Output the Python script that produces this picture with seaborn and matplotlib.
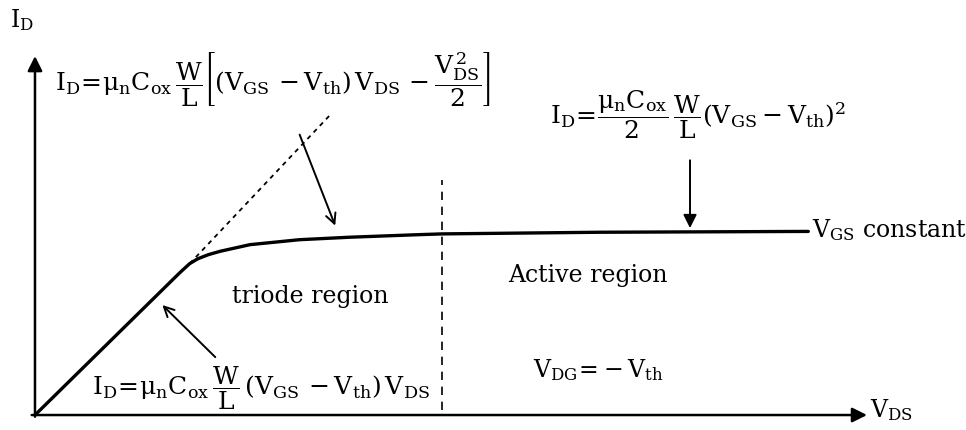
import matplotlib
matplotlib.use("Agg")
import matplotlib.pyplot as plt
import seaborn as sns
import pandas as pd

# Drain current curve for one gate voltage (arbitrary units)
vds = [0.00, 1.75, 1.87, 1.97, 2.10, 2.24, 2.60, 3.20, 3.81, 4.62, 4.92, 6.83, 9.35]
i_d = [0.00, 1.72, 1.83, 1.89, 1.94, 1.98, 2.06, 2.12, 2.15, 2.18, 2.19, 2.21, 2.22]

# Dashed extension of the linear (ohmic) slope
tangent_vds = [1.87, 3.57]
tangent_id = [1.83, 3.63]

# Boundary between triode and active region
boundary_vds = 4.92
boundary_id = [0.06, 2.84]

sns.set_theme(style="white")
plt.rcParams["font.family"] = ["DejaVu Serif", "DejaVu Sans"]
plt.rcParams["mathtext.fontset"] = "dejavuserif"
plt.rcParams["text.color"] = "black"

fig = plt.figure(figsize=(9.66, 4.30), dpi=100)
ax = fig.add_axes([0, 0, 1, 1])
ax.set_xlim(-0.423, 11.257)
ax.set_ylim(-0.181, 5.018)
ax.axis("off")

df = pd.DataFrame({"V_DS": vds, "I_D": i_d})
sns.lineplot(data=df, x="V_DS", y="I_D", ax=ax, color="black", lw=2.4,
             sort=False, estimator=None)
ax.plot(tangent_vds, tangent_id, color="black", lw=1.3, ls=(0, (2.5, 2.5)))
ax.plot([boundary_vds, boundary_vds], boundary_id, color="black", lw=1.2,
        ls=(0, (5, 4)))

# Coordinate axes with arrow heads
axis_kw = dict(arrowstyle="-|>", color="black", lw=1.8, mutation_scale=22,
               shrinkA=0, shrinkB=0)
ax.annotate("", xy=(10.06, 0), xytext=(-0.04, 0), arrowprops=axis_kw)
ax.annotate("", xy=(0, 4.34), xytext=(0, -0.02), arrowprops=axis_kw)

# Pointer arrows from the formulas to the curve
open_kw = dict(arrowstyle="->", color="black", lw=1.4, mutation_scale=18,
               shrinkA=0, shrinkB=0)
ax.annotate("", xy=(3.63, 2.29), xytext=(3.20, 3.39), arrowprops=open_kw)
ax.annotate("", xy=(1.54, 1.33), xytext=(2.18, 0.70), arrowprops=open_kw)
ax.annotate("", xy=(7.92, 2.26), xytext=(7.92, 3.08),
            arrowprops=dict(arrowstyle="-|>", color="black", lw=1.4,
                            mutation_scale=20, shrinkA=0, shrinkB=0))

fs = 17
ffs = 18
ax.text(-0.157, 4.78, r"$\mathrm{I_D}$", fontsize=fs, ha="center", va="center")
ax.text(10.10, 0.06, r"$\mathrm{V_{DS}}$", fontsize=fs, ha="left", va="center")

ax.text(0.24, 4.05,
        r"$\mathrm{I_D\!=\!\mu_n C_{ox}\,\dfrac{W}{L}\left[(V_{GS}\,-V_{th})\,V_{DS}\,-\dfrac{V_{DS}^{\,2}}{2}\right]}$",
        fontsize=ffs, ha="left", va="center")
ax.text(6.23, 3.63,
        r"$\mathrm{I_D\!=\!\dfrac{\mu_n C_{ox}}{2}\,\dfrac{W}{L}(V_{GS}-V_{th})^2}$",
        fontsize=ffs, ha="left", va="center")
ax.text(2.73, 0.33,
        r"$\mathrm{I_D\!=\!\mu_n C_{ox}\,\dfrac{W}{L}\,(V_{GS}\,-V_{th})\,V_{DS}}$",
        fontsize=ffs, ha="center", va="center")
ax.text(9.40, 2.24, r"$\mathrm{V_{GS}}$" + " constant", fontsize=fs,
        ha="left", va="center")
ax.text(3.33, 1.43, "triode region", fontsize=fs, ha="center", va="center")
ax.text(6.69, 1.69, "Active region", fontsize=fs, ha="center", va="center")
ax.text(6.81, 0.54, r"$\mathrm{V_{DG}\!=\!-V_{th}}$", fontsize=fs,
        ha="center", va="center")

fig.savefig("out.png", dpi=100, facecolor="white")
